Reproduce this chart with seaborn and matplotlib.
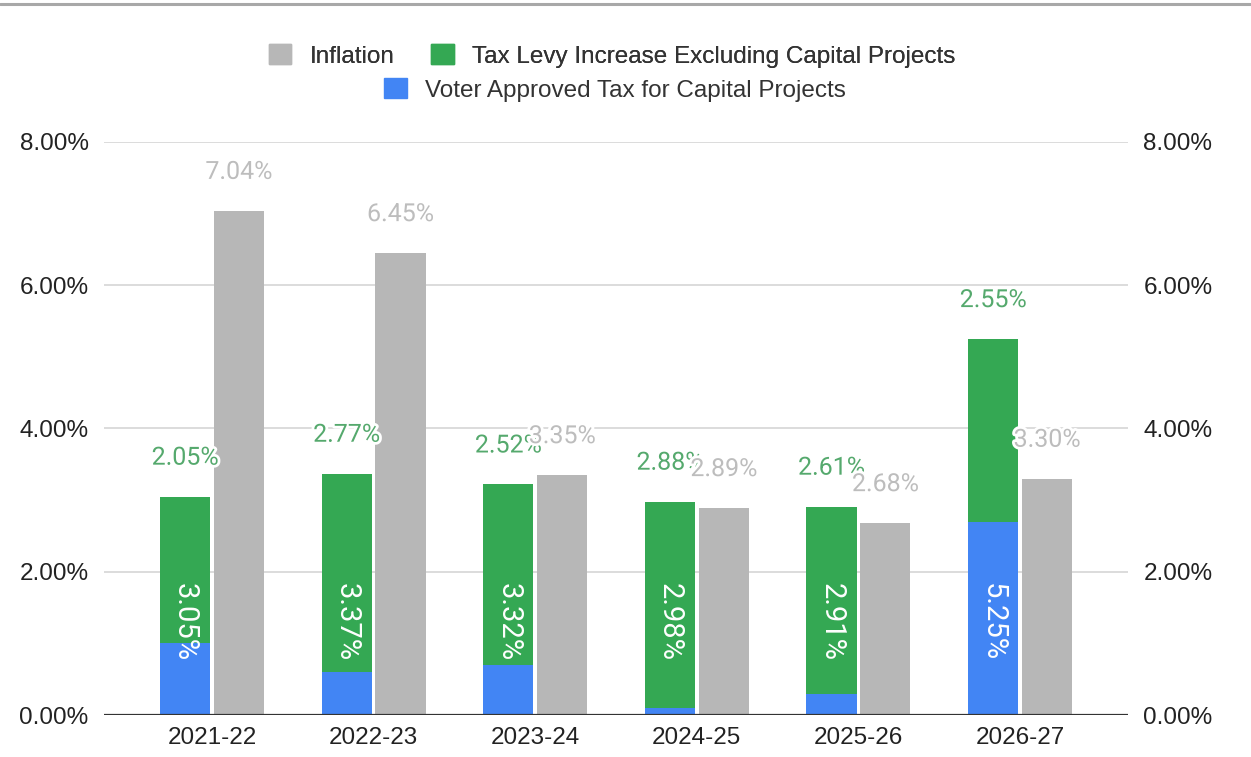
import pandas as pd
import seaborn as sns
import matplotlib.pyplot as plt
import matplotlib.patches as mpatches
import matplotlib.patheffects as pe
from matplotlib.lines import Line2D

# Dane
years = ["2021-22", "2022-23", "2023-24", "2024-25", "2025-26", "2026-27"]
voter_tax = [1.00, 0.60, 0.70, 0.10, 0.30, 2.70]
levy_increase = [2.05, 2.77, 2.52, 2.88, 2.61, 2.55]
inflation = [7.04, 6.45, 3.35, 2.89, 2.68, 3.30]
total_labels = [3.05, 3.37, 3.32, 2.98, 2.91, 5.25]
y_ticks = [0, 2, 4, 6, 8]

BLUE = "#4285f4"
GREEN = "#34a853"
GRAY = "#b7b7b7"
GREEN_TXT = "#55a96d"
GRAY_TXT = "#bdbdbd"

sns.set_theme(style="white")
plt.rcParams["font.family"] = ["Liberation Sans", "DejaVu Sans"]

fig = plt.figure(figsize=(12.51, 7.57), dpi=100)
ax = fig.add_axes([104 / 1251, 1 - 715 / 757, 1024 / 1251, 573 / 757])

# Slupki: suma (zielony) + inflacja (szary), potem niebieski na wierzchu
stack_top = [b + g for b, g in zip(voter_tax, levy_increase)]
df = pd.DataFrame({
    "year": years * 2,
    "group": ["tax"] * len(years) + ["inflation"] * len(years),
    "value": stack_top + inflation,
})
df_blue = pd.DataFrame({"year": years, "group": ["tax"] * len(years), "value": voter_tax})

common = dict(x="year", y="value", hue="group", hue_order=["tax", "inflation"],
              width=0.667, gap=0.07, saturation=1, legend=False, errorbar=None,
              dodge=True, linewidth=0, ax=ax, zorder=2)
sns.barplot(data=df, palette={"tax": GREEN, "inflation": GRAY}, **common)
sns.barplot(data=df_blue, palette={"tax": BLUE, "inflation": GRAY}, **common)

tax_bars = ax.containers[0]
infl_bars = ax.containers[1]

halo = [pe.withStroke(linewidth=4, foreground="white")]

# Etykiety obrócone (białe) wewnątrz słupków
for bar, tot in zip(tax_bars, total_labels):
    xc = bar.get_x() + bar.get_width() / 2
    ax.text(xc, 1.30, f"{tot:.2f}%", rotation=-90, ha="center", va="center",
            color="white", fontsize=21, family="Roboto", zorder=4)

# Etykiety zielone nad słupkami
for bar, val, top in zip(tax_bars, levy_increase, stack_top):
    xc = bar.get_x() + bar.get_width() / 2
    ax.annotate(f"{val:.2f}%", (xc, top), xytext=(0, 28), textcoords="offset points",
                ha="center", va="center", color=GREEN_TXT, fontsize=18,
                family="Roboto", path_effects=halo, zorder=5)

# Etykiety inflacji
for bar, val in zip(infl_bars, inflation):
    xc = bar.get_x() + bar.get_width() / 2
    ax.annotate(f"{val:.2f}%", (xc, val), xytext=(0, 28), textcoords="offset points",
                ha="center", va="center", color=GRAY_TXT, fontsize=18,
                family="Roboto", path_effects=halo, zorder=6)

# Osie
ax.set_xlim(-0.668, 5.668)
ax.set_ylim(0, 8)
ax.set_yticks(y_ticks)
ax.set_yticklabels([f"{t:.2f}%" for t in y_ticks])
ax.set_xlabel("")
ax.set_ylabel("")
for s in ax.spines.values():
    s.set_visible(False)
ax.grid(axis="y", color="#d6d6d6", linewidth=1.2, zorder=0)
ax.grid(axis="x", visible=False)
ax.axhline(0, color="#333333", linewidth=1.6, zorder=3)
ax.tick_params(axis="y", length=0, pad=11, labelsize=17.5, labelcolor="#222222",
               labelleft=True, labelright=True)
ax.tick_params(axis="x", length=0, pad=9, labelsize=17.5, labelcolor="#222222")

# Legenda w dwóch wierszach
leg_kw = dict(frameon=False, fontsize=17.5, handlelength=0.93, handleheight=0.9,
              handletextpad=0.75, columnspacing=1.5, borderpad=0, labelcolor="#333333")
leg1 = fig.legend(handles=[mpatches.Patch(color=GRAY, label="Inflation"),
                           mpatches.Patch(color=GREEN, label="Tax Levy Increase Excluding Capital Projects")],
                  ncol=2, loc="center", bbox_to_anchor=(612 / 1251, 1 - 56 / 757), **leg_kw)
fig.add_artist(leg1)
fig.legend(handles=[mpatches.Patch(color=BLUE, label="Voter Approved Tax for Capital Projects")],
           loc="center", bbox_to_anchor=(615 / 1251, 1 - 90 / 757), **leg_kw)

# Górna krawędź zrzutu
fig.add_artist(Line2D([0, 1], [1 - 4 / 757, 1 - 4 / 757], transform=fig.transFigure,
                      color="#a8a8a8", linewidth=2.2))

plt.savefig("out.png", dpi=100)
